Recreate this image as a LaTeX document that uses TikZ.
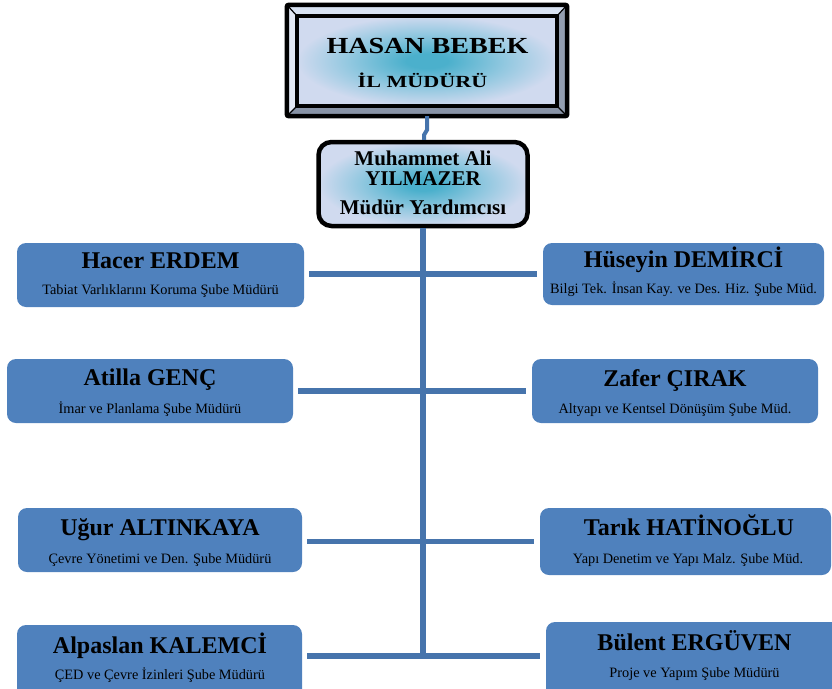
\documentclass[tikz,border=0pt]{standalone}
\usepackage{fontspec}
\setmainfont{Liberation Serif}
\newfontfamily\widefont[FakeStretch=1.22]{Liberation Serif}
\newfontfamily\widerfont[FakeStretch=1.3]{Liberation Serif}
\definecolor{boxblue}{HTML}{4F81BD}
\definecolor{lineblue}{HTML}{4674AC}
\definecolor{glowc}{HTML}{4BB0CC}
\definecolor{glowm}{HTML}{92C8E0}
\definecolor{glowo}{HTML}{D0DAEF}
\definecolor{bevlight}{HTML}{E2E8F4}
\definecolor{bevtop}{HTML}{D8E2F2}
\definecolor{bevright}{HTML}{939EB0}
\definecolor{bevbottom}{HTML}{8893A6}
\pgfdeclareradialshading{glow}{\pgfpoint{0bp}{0bp}}{color(0bp)=(glowc);color(4bp)=(glowc);color(15bp)=(glowm);color(25bp)=(glowo);color(50bp)=(glowo)}
\begin{document}
\begin{tikzpicture}[x=1pt,y=-1pt,
  conn/.style={draw=lineblue, line width=5.5pt},
  sidebox/.style={rectangle, rounded corners=9pt, fill=boxblue, draw=none, inner sep=0pt},
  nametext/.style={anchor=base, inner sep=0pt, font=\fontsize{24}{28}\selectfont\bfseries},
  subtext/.style={anchor=base, inner sep=0pt, font=\fontsize{14.3}{17}\selectfont},
  midtext/.style={anchor=base, inner sep=0pt, font=\fontsize{21}{25}\selectfont\bfseries},
  blackline/.style={draw=black, line width=4.5pt}]
\useasboundingbox (0,0) rectangle (832,688);
\clip (0,0) rectangle (832,688);

% ---------- top box (bevelled frame) ----------
\node[minimum width=280pt, minimum height=111pt, inner sep=0pt] (top) at (427,60.5) {};
\node[minimum width=260pt, minimum height=90pt, inner sep=0pt] (topin) at (427,61) {};
\shade[shading=glow] (topin.north west) rectangle (topin.south east);
\fill[bevtop] (top.north west) -- (top.north east) -- (topin.north east) -- (topin.north west) -- cycle;
\fill[bevlight] (top.north west) -- (topin.north west) -- (topin.south west) -- (top.south west) -- cycle;
\fill[bevright] (top.north east) -- (top.south east) -- (topin.south east) -- (topin.north east) -- cycle;
\fill[bevbottom] (top.south west) -- (topin.south west) -- (topin.south east) -- (top.south east) -- cycle;
\draw[black, line width=1.2pt] (top.north west) -- (topin.north west)
  (top.north east) -- (topin.north east)
  (top.south west) -- (topin.south west)
  (top.south east) -- (topin.south east);
\draw[blackline, rounded corners=2pt] (top.north west) rectangle (top.south east);
\draw[blackline] (topin.north west) rectangle (topin.south east);
\node[anchor=base, inner sep=0pt, font=\widefont\fontsize{23}{27}\selectfont\bfseries] (tname) at (427.5,53) {HASAN BEBEK};
\node[anchor=base, inner sep=0pt, font=\widerfont\fontsize{17}{20}\selectfont\bfseries] (ttitle) at (422.5,87) {İL MÜDÜRÜ};

% ---------- deputy box ----------
\node[rectangle, rounded corners=13pt, draw=black, line width=4.5pt, shade, shading=glow,
  minimum width=209pt, minimum height=84pt, inner sep=0pt] (m) at (423,184) {};
\node[midtext] (m1) at (423,165) {Muhammet Ali};
\node[midtext] (m2) at (423,185) {YILMAZER};
\node[midtext] (m3) at (423,214) {Müdür Yardımcısı};

% ---------- connector top -> deputy ----------
\coordinate (jog1) at (427,130);
\coordinate (jog2) at (424,135);
\draw[draw=lineblue, line width=4pt] (top.south -| jog1) -- (jog1) -- (jog2) -- (m.north -| jog2);

% ---------- side boxes ----------
\node[sidebox, minimum width=287pt, minimum height=64pt] (b1) at (160.5,275) {};
\node[nametext] (b1n) at (160.5,268) {Hacer ERDEM};
\node[subtext] (b1s) at (160.5,294) {Tabiat Varlıklarını Koruma Şube Müdürü};

\node[sidebox, minimum width=281pt, minimum height=62pt] (b2) at (683.5,274) {};
\node[nametext] (b2n) at (683.5,267) {Hüseyin DEMİRCİ};
\node[subtext] (b2s) at (683.5,293) {Bilgi Tek. İnsan Kay. ve Des. Hiz. Şube Müd.};

\node[sidebox, minimum width=286pt, minimum height=64pt] (b3) at (150,391) {};
\node[nametext] (b3n) at (150,385) {Atilla GENÇ};
\node[subtext] (b3s) at (150,413) {İmar ve Planlama Şube Müdürü};

\node[sidebox, minimum width=286pt, minimum height=64pt] (b4) at (675,391) {};
\node[nametext] (b4n) at (675,386) {Zafer ÇIRAK};
\node[subtext] (b4s) at (675,413) {Altyapı ve Kentsel Dönüşüm Şube Müd.};

\node[sidebox, minimum width=284pt, minimum height=64pt] (b5) at (160,540) {};
\node[nametext] (b5n) at (160,535) {Uğur ALTINKAYA};
\node[subtext] (b5s) at (160,563) {Çevre Yönetimi ve Den. Şube Müdürü};

\node[sidebox, minimum width=291pt, minimum height=67pt] (b6) at (685.5,541.5) {};
\node[nametext] (b6n) at (689,535) {Tarık HATİNOĞLU};
\node[subtext] (b6s) at (688,563) {Yapı Denetim ve Yapı Malz. Şube Müd.};

\node[sidebox, minimum width=285pt, minimum height=75pt] (b7) at (159.5,662.5) {};
\node[nametext] (b7n) at (160,653) {Alpaslan KALEMCİ};
\node[subtext] (b7s) at (160,679) {ÇED ve Çevre İzinleri Şube Müdürü};

\node[sidebox, minimum width=297pt, minimum height=78pt] (b8) at (694.5,661) {};
\node[nametext] (b8n) at (694.5,650) {Bülent ERGÜVEN};
\node[subtext] (b8s) at (694.5,677) {Proje ve Yapım Şube Müdürü};

% ---------- connectors ----------
\coordinate (r1) at (423,274);
\coordinate (r2) at (423,391);
\coordinate (r3) at (423,541.5);
\coordinate (r4) at (423,656);
\coordinate (tend) at (423,658.8);
\draw[conn] (m.south) -- (tend);
\draw[conn, shorten <=5pt] (b1.east |- r1) -- (r1);
\draw[conn, shorten <=6pt] (b2.west |- r1) -- (r1);
\draw[conn, shorten <=5pt] (b3.east |- r2) -- (r2);
\draw[conn, shorten <=6pt] (b4.west |- r2) -- (r2);
\draw[conn, shorten <=5pt] (b5.east |- r3) -- (r3);
\draw[conn, shorten <=6pt] (b6.west |- r3) -- (r3);
\draw[conn, shorten <=5pt] (b7.east |- r4) -- (r4);
\draw[conn, shorten <=6pt] (b8.west |- r4) -- (r4);
\end{tikzpicture}
\end{document}
